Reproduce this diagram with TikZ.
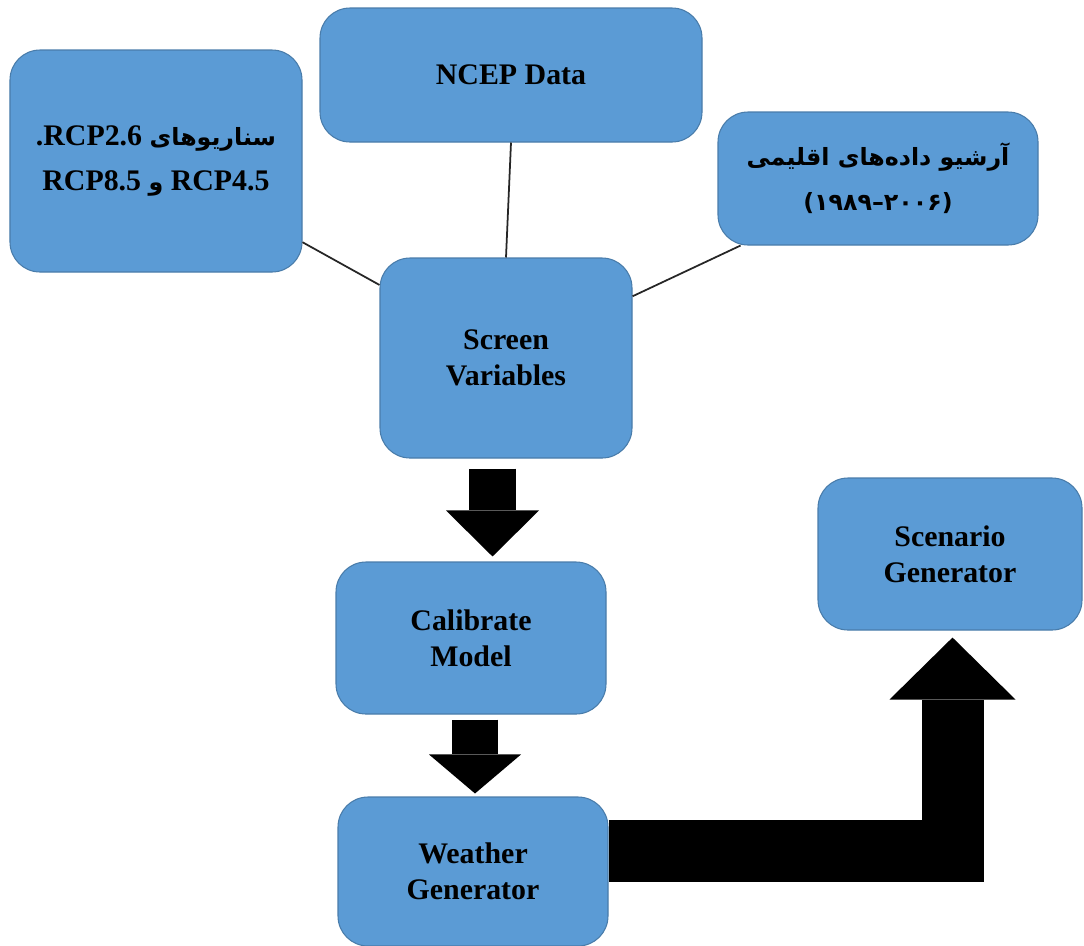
\documentclass[tikz,border=0pt]{standalone}
\usepackage{fontspec}
\setmainfont{Liberation Serif}
\newfontfamily\fafont[Script=Arabic]{DejaVu Sans}
\TeXXeTstate=1
\usetikzlibrary{arrows.meta}
\definecolor{boxblue}{HTML}{5B9BD5}
\newcommand{\fatext}[1]{{\fafont\fontsize{13.5}{20.5}\selectfont #1}}
\tikzset{
  box/.style={draw=boxblue!80!black, fill=boxblue, rounded corners=6mm, line width=0.6pt, font=\bfseries\fontsize{17}{20.5}\selectfont, align=center, inner sep=2pt},
  link/.style={line width=1pt, draw=black!85},
  bigarrow/.style={draw=black, line join=miter},
}

\begin{document}
\begin{tikzpicture}
\useasboundingbox (0,0) rectangle (21.68,-18.9);
\node[box, minimum width=58.4mm, minimum height=44.4mm] (rcp) at (3.12,-3.22)
  {\beginR\fatext{سناریوهای} \beginL RCP2.6\endL.\endR\\[5pt]
   \beginR\beginL RCP4.5\endL{} \fatext{و} \beginL RCP8.5\endL\endR};
\node[box, minimum width=76.4mm, minimum height=26.8mm] (ncep) at (10.22,-1.5) {NCEP Data};
\node[box, minimum width=64mm, minimum height=26.6mm] (arch) at (17.56,-3.57)
  {\beginR\fatext{آرشیو داده‌های اقلیمی}\endR\\[5pt] \fatext{(۲۰۰۶–۱۹۸۹)}};
\node[box, minimum width=50.4mm, minimum height=40mm] (screen) at (10.12,-7.16) {Screen\\Variables};
\node[box, minimum width=54mm, minimum height=30.4mm] (calib) at (9.42,-12.76) {Calibrate\\Model};
\node[box, minimum width=54mm, minimum height=29.8mm] (weather) at (9.46,-17.43) {Weather\\Generator};
\node[box, minimum width=52.8mm, minimum height=30.4mm] (scen) at (19.0,-11.08) {Scenario\\Generator};

\draw[link] (rcp.-29) -- (screen.150);
\draw[link] (ncep.south) -- (screen.north);
\draw[link] (arch.206) -- (screen.26);

\draw[bigarrow, line width=9.4mm, -{Triangle[length=9.2mm, width=18.6mm, line width=0pt]},
  shorten <=2mm, shorten >=1mm]
  ([xshift=-2.7mm]screen.south) -- ([xshift=-2.7mm]screen.south |- calib.north);
\draw[bigarrow, line width=9.2mm, -{Triangle[length=7.8mm, width=18.4mm, line width=0pt]},
  shorten <=1mm, shorten >=0.6mm]
  ([xshift=0.8mm]calib.south) -- ([xshift=0.8mm]calib.south |- weather.north);
\draw[bigarrow, line width=12.4mm, -{Triangle[length=12.4mm, width=25.2mm, line width=0pt]},
  shorten >=1.4mm]
  ([yshift=4.1mm]weather.east) -| ([xshift=0.5mm]scen.south);
\end{tikzpicture}
\end{document}
